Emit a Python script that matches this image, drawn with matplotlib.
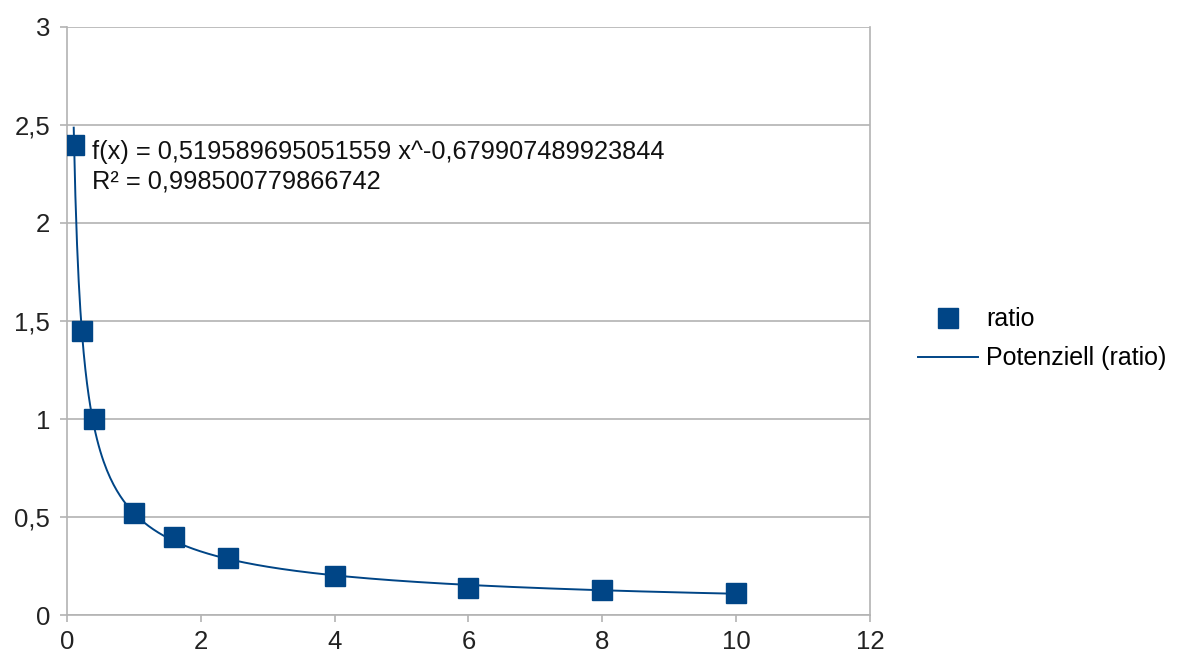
import numpy as np
import matplotlib
matplotlib.use("Agg")
import matplotlib.pyplot as plt
from matplotlib.ticker import FuncFormatter

plt.rcParams["font.family"] = ["Liberation Sans", "DejaVu Sans"]

# data
x_vals = [0.1, 0.22, 0.4, 1.0, 1.6, 2.4, 4.0, 6.0, 8.0, 10.0]
ratio = [2.40, 1.45, 1.00, 0.52, 0.40, 0.29, 0.20, 0.14, 0.13, 0.11]
fit_label = "f(x) = 0,519589695051559 x^-0,679907489923844\nR² = 0,998500779866742"
x_ticks = [0, 2, 4, 6, 8, 10, 12]
y_ticks = [0, 0.5, 1, 1.5, 2, 2.5, 3]

BLUE = "#004586"
GRID = "#b3b3b3"

# power trend line, fitted in log space
xs = np.array(x_vals)
ys = np.array(ratio)
b, log_a = np.polyfit(np.log(xs), np.log(ys), 1)
x_fit = np.linspace(xs.min(), xs.max(), 400)
y_fit = np.exp(log_a) * x_fit ** b

fig = plt.figure(figsize=(11.78, 6.58), dpi=100)
ax = fig.add_axes([0.0569, 0.0653, 0.6816, 0.8937])

ax.plot(x_fit, y_fit, color=BLUE, lw=1.4, label="Potenziell (ratio)", zorder=3)
ax.plot(x_vals, ratio, ls="none", marker="s", ms=14.5, color=BLUE,
        label="ratio", zorder=4)

ax.set_xlim(0, 12)
ax.set_ylim(0, 3)
ax.set_xticks(x_ticks)
ax.set_yticks(y_ticks)
comma = FuncFormatter(lambda v, _: f"{v:g}".replace(".", ","))
ax.xaxis.set_major_formatter(comma)
ax.yaxis.set_major_formatter(comma)
ax.tick_params(axis="both", labelsize=18.5, color=GRID, length=5, width=1.2,
               labelcolor="#222222")
ax.tick_params(axis="x", pad=6)
ax.tick_params(axis="y", pad=7)

ax.yaxis.grid(True, color=GRID, lw=1.2, zorder=0)
ax.set_axisbelow(True)
ax.spines["top"].set_visible(False)
for side in ["left", "right", "bottom"]:
    ax.spines[side].set_color(GRID)
    ax.spines[side].set_linewidth(1.2)

ax.text(0.37, 2.425, fit_label, fontsize=18.3, va="top", ha="left",
        color="#111111", linespacing=1.3)

handles, labels = ax.get_legend_handles_labels()
leg = fig.legend(handles[::-1], labels[::-1], loc="center left",
                 bbox_to_anchor=(0.769, 0.485), frameon=False, fontsize=18,
                 borderpad=0, handlelength=2.4, handletextpad=0.3,
                 labelspacing=0.6)

fig.savefig("out.png", dpi=100, facecolor="white")
